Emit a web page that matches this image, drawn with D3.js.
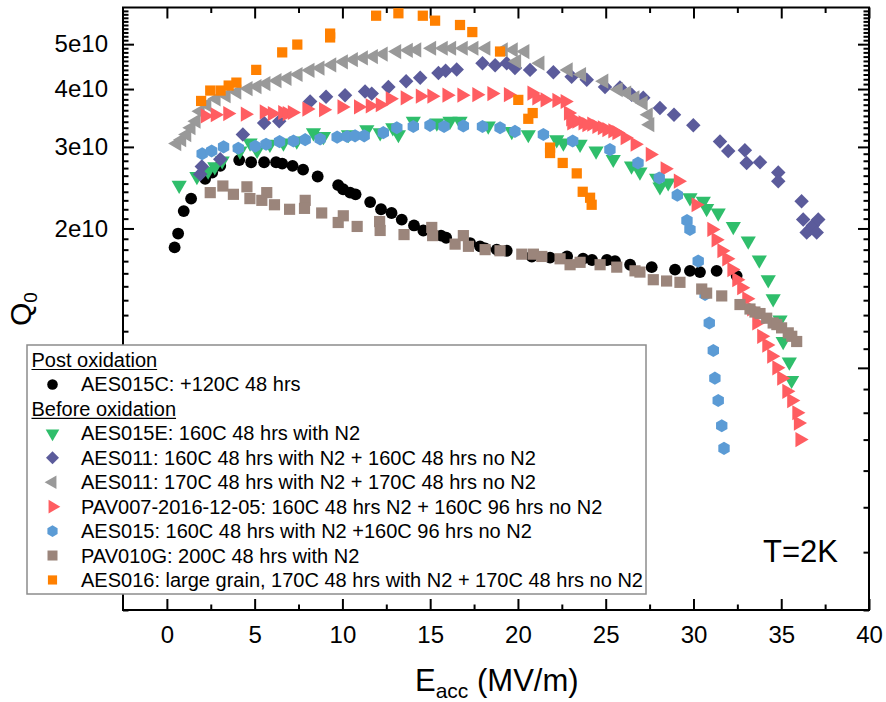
<!DOCTYPE html>
<html><head><meta charset="utf-8">
<script src="https://cdn.jsdelivr.net/npm/d3@7"></script>
<style>
body{margin:0;background:#fff}
svg{display:block}
text{font-family:"Liberation Sans",Arial,sans-serif}
</style>
</head><body>
<svg id="chart" width="886" height="702"></svg>
<script>
// ---------------- DATA (E_acc in MV/m, Q0 in units of 1e10) ----------------
const xTickValues = [0, 5, 10, 15, 20, 25, 30, 35, 40];
const yTickValues = [1, 2, 3, 4, 5];
const yTickLabels = ["1e10", "2e10", "3e10", "4e10", "5e10"];

const aes015c = [[0.44,1.82],[0.64,1.95],[0.96,2.18],[1.38,2.32],[2.18,2.56],[2.58,2.64],[3.04,2.73],[4.12,2.81],[4.80,2.78],[5.54,2.78],[6.22,2.78],[6.57,2.76],[7.16,2.73],[7.76,2.68],[8.59,2.59],[9.76,2.48],[10.04,2.43],[10.44,2.39],[10.75,2.37],[11.58,2.28],[12.20,2.20],[12.80,2.16],[13.38,2.09],[14.08,2.03],[14.61,1.98],[15.62,1.93],[15.91,1.91],[17.27,1.86],[17.84,1.83],[18.13,1.81],[18.79,1.80],[19.36,1.79],[20.79,1.74],[21.83,1.73],[22.80,1.74],[23.71,1.72],[24.22,1.71],[25.07,1.71],[25.53,1.70],[26.39,1.67],[27.62,1.65],[28.95,1.63],[29.80,1.62],[30.37,1.61],[31.32,1.62],[32.46,1.58]];

const aes015e = [[0.70,2.48],[1.71,2.59],[2.35,2.66],[2.73,2.72],[3.15,2.80],[4.16,2.94],[4.74,3.06],[5.14,2.95],[5.87,3.04],[6.64,3.06],[7.40,3.09],[8.35,3.22],[8.92,3.16],[10.34,3.19],[11.39,3.27],[12.15,3.22],[12.87,3.30],[13.19,3.19],[14.04,3.41],[15.38,3.38],[16.13,3.41],[16.70,3.41],[18.31,3.33],[19.65,3.24],[20.59,3.19],[22.21,3.11],[22.59,3.06],[23.54,3.04],[24.45,2.94],[25.43,2.82],[26.47,2.73],[26.95,2.65],[27.90,2.57],[28.09,2.46],[28.56,2.51],[29.80,2.33],[30.56,2.29],[30.75,2.21],[31.41,2.16],[32.27,2.02],[33.12,1.88],[33.75,1.71],[34.26,1.55],[34.54,1.41],[34.93,1.27],[35.11,1.14],[35.46,1.03],[35.59,0.94]];

const aes011a = [[1.90,2.62],[1.99,2.72],[3.04,2.82],[4.33,3.19],[5.54,3.38],[6.40,3.41],[8.16,3.76],[9.07,3.85],[10.15,3.88],[11.29,3.95],[11.67,3.91],[12.62,4.04],[13.63,4.16],[14.43,4.23],[15.47,4.33],[15.88,4.38],[16.51,4.41],[17.98,4.55],[18.70,4.50],[19.36,4.55],[19.83,4.44],[20.69,4.40],[22.02,4.35],[23.06,4.25],[23.92,4.19],[24.96,4.04],[25.81,4.03],[26.48,3.89],[27.14,3.83],[28.09,3.64],[28.89,3.52],[29.99,3.34],[31.51,3.08],[31.98,2.94],[32.93,2.95],[33.03,2.77],[33.79,2.78],[34.83,2.64],[34.83,2.53],[36.16,2.29],[36.25,2.09],[36.45,1.96],[36.63,1.99],[36.80,2.03],[37.02,1.96],[37.11,2.09]];

const aes011b = [[0.57,3.05],[0.85,3.11],[1.14,3.19],[1.38,3.30],[1.67,3.41],[1.90,3.58],[2.28,3.70],[2.81,3.81],[3.38,3.87],[3.99,3.94],[4.63,4.01],[5.14,4.05],[5.65,4.11],[6.28,4.17],[6.85,4.22],[7.48,4.30],[8.16,4.39],[8.73,4.44],[9.40,4.51],[10.06,4.58],[10.63,4.63],[11.20,4.67],[11.77,4.70],[12.33,4.76],[13.10,4.82],[13.76,4.85],[14.24,4.86],[15.09,4.90],[15.75,4.90],[16.23,4.90],[16.89,4.90],[17.50,4.90],[18.18,4.90],[19.17,4.86],[19.74,4.86],[20.40,4.82],[19.93,4.59],[21.26,4.55],[22.87,4.40],[23.63,4.30],[24.90,4.16],[25.72,3.99],[26.20,3.92],[26.67,3.83],[27.14,3.73],[27.43,3.52],[27.52,3.35]];

const pav007 = [[2.18,3.50],[2.75,3.52],[3.46,3.54],[4.46,3.53],[5.54,3.57],[6.00,3.54],[6.59,3.56],[6.85,3.54],[7.14,3.56],[7.97,3.62],[8.92,3.61],[9.97,3.66],[10.91,3.66],[11.58,3.68],[12.15,3.70],[12.72,3.81],[13.57,3.83],[14.43,3.86],[15.09,3.86],[15.95,3.88],[16.80,3.88],[17.65,3.89],[18.51,3.91],[19.45,3.89],[20.79,3.92],[21.07,3.83],[21.54,3.79],[22.21,3.78],[22.68,3.76],[22.87,3.55],[23.00,3.45],[23.06,3.38],[23.35,3.41],[23.70,3.38],[23.92,3.35],[24.20,3.36],[24.49,3.32],[24.80,3.30],[25.06,3.27],[25.40,3.25],[25.63,3.22],[26.10,3.14],[26.67,3.04],[27.53,2.89],[28.38,2.69],[29.13,2.53],[30.14,2.25],[31.04,1.99],[31.28,1.89],[31.61,1.79],[31.89,1.72],[32.18,1.63],[32.46,1.55],[32.74,1.49],[33.03,1.41],[33.31,1.34],[33.60,1.25],[33.88,1.17],[34.17,1.12],[34.45,1.06],[34.74,1.00],[35.02,0.95],[35.31,0.89],[35.59,0.85],[35.88,0.80],[35.97,0.76],[36.06,0.70]];

const aes015 = [[2.01,2.90],[2.55,2.94],[3.23,3.00],[4.07,2.98],[5.03,3.01],[5.65,3.04],[6.42,3.08],[7.21,3.09],[7.88,3.11],[8.73,3.12],[9.70,3.15],[10.27,3.16],[10.72,3.17],[11.24,3.17],[12.33,3.22],[13.10,3.30],[14.04,3.32],[14.99,3.34],[15.79,3.32],[16.89,3.33],[17.98,3.32],[18.98,3.30],[19.83,3.24],[21.45,3.19],[23.12,3.09],[25.24,2.96],[26.84,2.77],[28.05,2.57],[29.08,2.36],[29.63,2.08],[29.80,1.99],[30.27,1.70],[30.66,1.44],[30.90,1.25],[31.13,1.09],[31.22,0.95],[31.41,0.85],[31.61,0.75],[31.74,0.67]];

const pav010g = [[2.47,2.39],[3.19,2.47],[3.79,2.37],[4.56,2.46],[4.73,2.32],[5.41,2.30],[5.69,2.39],[6.13,2.25],[6.99,2.20],[7.88,2.30],[7.84,2.21],[8.82,2.16],[9.76,2.06],[10.05,2.13],[10.84,2.02],[12.12,2.07],[12.15,1.98],[13.51,1.94],[15.09,2.01],[15.14,1.93],[16.42,1.85],[16.89,1.93],[17.18,1.83],[18.13,1.80],[18.98,1.79],[20.22,1.76],[20.88,1.76],[21.36,1.74],[22.40,1.72],[22.97,1.67],[23.54,1.69],[24.68,1.67],[25.63,1.65],[26.67,1.62],[26.95,1.61],[27.71,1.55],[28.47,1.54],[29.23,1.53],[30.47,1.48],[30.75,1.45],[31.61,1.43],[32.65,1.37],[33.22,1.34],[33.50,1.32],[33.79,1.31],[34.17,1.28],[34.54,1.25],[34.75,1.24],[35.02,1.22],[35.40,1.19],[35.60,1.17],[35.88,1.14]];

const aes016 = [[1.95,3.77],[2.47,3.97],[3.06,3.97],[3.52,4.07],[3.96,4.13],[5.09,4.40],[6.57,4.80],[7.43,4.99],[9.30,5.27],[9.30,5.17],[11.92,5.76],[13.19,5.83],[14.58,5.76],[15.28,5.62],[16.70,5.50],[17.40,5.31],[18.98,4.82],[20.02,3.79],[20.84,3.55],[20.59,3.45],[21.83,2.99],[21.83,2.91],[22.55,2.77],[23.35,2.63],[23.69,2.40],[24.11,2.33],[24.20,2.25]];

const legendLabels = [
  "AES015C: +120C 48 hrs",
  "AES015E: 160C 48 hrs with N2",
  "AES011: 160C 48 hrs with N2 + 160C 48 hrs no N2",
  "AES011: 170C 48 hrs with N2 + 170C 48 hrs no N2",
  "PAV007-2016-12-05: 160C 48 hrs N2 + 160C 96 hrs no N2",
  "AES015: 160C 48 hrs with N2 +160C 96 hrs no N2",
  "PAV010G: 200C 48 hrs with N2",
  "AES016: large grain, 170C 48 hrs with N2 + 170C 48 hrs no N2"
];
const legendHeaders = ["Post oxidation", "Before oxidation"];

// ---------------- CHART ----------------
const svg = d3.select("#chart");
const L = 123, R = 869, T = 7.5, B = 610;
const x = d3.scaleLinear().domain([-2.5, 40]).range([L, R]);
const y = d3.scaleLog().domain([0.3, 6]).range([B, T]);

const hexagon = {
  draw(ctx, size) {
    const r = Math.sqrt(size / (1.5 * Math.sqrt(3)));
    for (let i = 0; i < 6; i++) {
      const a = Math.PI / 3 * i - Math.PI / 2;
      const px = r * Math.cos(a), py = r * Math.sin(a);
      if (i) ctx.lineTo(px, py); else ctx.moveTo(px, py);
    }
    ctx.closePath();
  }
};

const series = [
  {data: aes015c, color: "#000000", sym: d3.symbolCircle,   size: 110, rot: 0},
  {data: aes015e, color: "#2fbe6b", sym: d3.symbolTriangle, size: 100, rot: 180},
  {data: aes011a, color: "#5b5b9b", sym: d3.symbolSquare,   size: 105, rot: 45},
  {data: aes011b, color: "#999999", sym: d3.symbolTriangle, size: 100, rot: -90},
  {data: pav007,  color: "#ff5d61", sym: d3.symbolTriangle, size: 100, rot: 90},
  {data: aes015,  color: "#5b9bd5", sym: hexagon,           size: 112, rot: 0},
  {data: pav010g, color: "#9b857b", sym: d3.symbolSquare,   size: 125, rot: 0},
  {data: aes016,  color: "#ff8000", sym: d3.symbolSquare,   size: 105, rot: 0}
];

// minor tick positions
const xMinor = d3.range(2.5, 40, 5);
const yMinor = d3.range(3, 60).filter(k => k % 10 !== 0).map(k => k / 10);

function styleAxis(g, fs) {
  g.select(".domain").remove();
  g.selectAll("line").attr("stroke", "#000").attr("stroke-width", 2);
  g.attr("font-size", fs).attr("font-family", '"Liberation Sans",Arial,sans-serif');
  g.selectAll("text").attr("fill", "#000");
}

// bottom
svg.append("g").attr("transform", `translate(0,${B})`)
  .call(d3.axisBottom(x).tickValues(xTickValues).tickFormat(d3.format("d")).tickSize(-11).tickSizeOuter(0).tickPadding(16))
  .call(g => styleAxis(g, 24));
svg.append("g").attr("transform", `translate(0,${B})`)
  .call(d3.axisBottom(x).tickValues(xMinor).tickFormat("").tickSize(-5.5).tickSizeOuter(0))
  .call(g => styleAxis(g, 24));
// top
svg.append("g").attr("transform", `translate(0,${T})`)
  .call(d3.axisTop(x).tickValues(xTickValues).tickFormat("").tickSize(-11).tickSizeOuter(0))
  .call(g => styleAxis(g, 24));
svg.append("g").attr("transform", `translate(0,${T})`)
  .call(d3.axisTop(x).tickValues(xMinor).tickFormat("").tickSize(-5.5).tickSizeOuter(0))
  .call(g => styleAxis(g, 24));
// left
svg.append("g").attr("transform", `translate(${L},0)`)
  .call(d3.axisLeft(y).tickValues(yTickValues).tickFormat((d, i) => yTickLabels[i]).tickSize(-11).tickSizeOuter(0).tickPadding(15))
  .call(g => styleAxis(g, 24));
svg.append("g").attr("transform", `translate(${L},0)`)
  .call(d3.axisLeft(y).tickValues(yMinor).tickFormat("").tickSize(-5.5).tickSizeOuter(0))
  .call(g => styleAxis(g, 24));
// right
svg.append("g").attr("transform", `translate(${R},0)`)
  .call(d3.axisRight(y).tickValues(yTickValues).tickFormat("").tickSize(-11).tickSizeOuter(0))
  .call(g => styleAxis(g, 24));
svg.append("g").attr("transform", `translate(${R},0)`)
  .call(d3.axisRight(y).tickValues(yMinor).tickFormat("").tickSize(-5.5).tickSizeOuter(0))
  .call(g => styleAxis(g, 24));

// frame
svg.append("rect").attr("x", L).attr("y", T).attr("width", R - L).attr("height", B - T)
  .attr("fill", "none").attr("stroke", "#000").attr("stroke-width", 2);

// points
series.forEach(s => {
  const gen = d3.symbol().type(s.sym).size(s.size);
  svg.append("g").selectAll("path").data(s.data).join("path")
    .attr("d", gen)
    .attr("transform", d => `translate(${x(d[0])},${y(d[1])}) rotate(${s.rot})`)
    .attr("fill", s.color);
});

// axis titles
const xt = svg.append("text").attr("x", 415).attr("y", 691).attr("font-size", 31).attr("fill", "#000");
xt.append("tspan").text("E");
xt.append("tspan").attr("font-size", 21).attr("dy", 7).text("acc");
xt.append("tspan").attr("dy", -7).text(" (MV/m)");

const yt = svg.append("text").attr("transform", "translate(31,326) rotate(-90)").attr("font-size", 30).attr("fill", "#000");
yt.append("tspan").text("Q");
yt.append("tspan").attr("font-size", 19).attr("dy", 6).text("0");

svg.append("text").attr("x", 763).attr("y", 562).attr("font-size", 31).attr("fill", "#000").text("T=2K");

// legend
const lg = svg.append("g");
lg.append("rect").attr("x", 27).attr("y", 345).attr("width", 619).attr("height", 249)
  .attr("fill", "#fff").attr("stroke", "#8c8c8c").attr("stroke-width", 1.5);
const rowY = i => 360 + i * 24.44;
const rows = [
  {header: legendHeaders[0]},
  {s: 0},
  {header: legendHeaders[1]},
  {s: 1}, {s: 2}, {s: 3}, {s: 4}, {s: 5}, {s: 6}, {s: 7}
];
rows.forEach((r, i) => {
  const cy = rowY(i);
  if (r.header !== undefined) {
    const t = lg.append("text").attr("x", 31.5).attr("y", cy + 7).attr("font-size", 20).attr("fill", "#000").text(r.header);
    const w = t.node().getComputedTextLength();
    lg.append("line").attr("x1", 31.5).attr("x2", 31.5 + w).attr("y1", cy + 9.5).attr("y2", cy + 9.5)
      .attr("stroke", "#000").attr("stroke-width", 1.2);
  } else {
    const s = series[r.s];
    lg.append("path").attr("d", d3.symbol().type(s.sym).size(s.size * 0.8)())
      .attr("transform", `translate(52.5,${cy}) rotate(${s.rot})`).attr("fill", s.color);
    lg.append("text").attr("x", 81).attr("y", cy + 7).attr("font-size", 20).attr("fill", "#000").text(legendLabels[r.s]);
  }
});
</script>
</body></html>
